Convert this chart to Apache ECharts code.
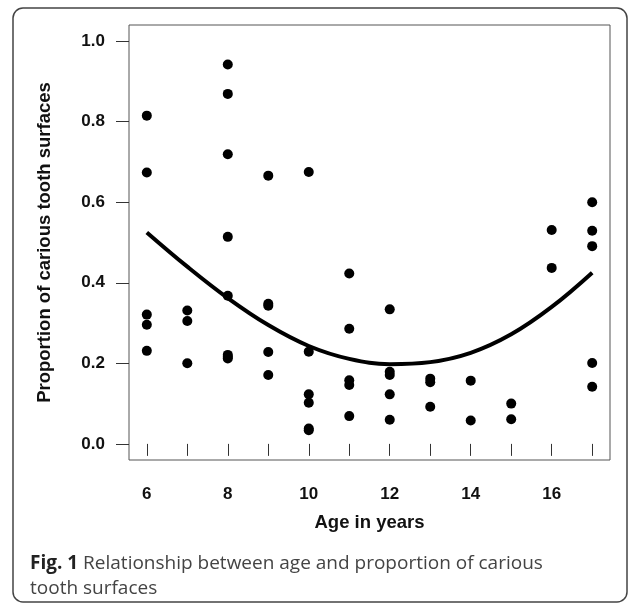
<!DOCTYPE html>
<html>
<head>
<meta charset="utf-8">
<script src="https://cdn.jsdelivr.net/npm/echarts@6/dist/echarts.min.js"></script>
<style>
html,body{margin:0;padding:0;background:#fff;}
#chart{width:634px;height:606px;}
</style>
</head>
<body>
<div id="chart"></div>
<script>
// Observed data: [age, proportion]
var pointAges = [
  6,6,6,6,6,
  7,7,7,
  8,8,8,8,8,8,8,8,
  9,9,9,9,9,
  10,10,10,10,10,10,
  11,11,11,11,11,
  12,12,12,12,12,
  13,13,13,
  14,14,
  15,15,
  16,16,
  17,17,17,17,17
];
var pointValues = [
  0.815,0.674,0.321,0.296,0.231,
  0.331,0.305,0.200,
  0.942,0.869,0.719,0.514,0.368,0.221,0.212,
  0.216,
  0.666,0.348,0.343,0.228,0.171,
  0.675,0.229,0.123,0.102,0.038,0.034,
  0.423,0.286,0.158,0.146,0.069,
  0.334,0.179,0.171,0.123,0.060,
  0.162,0.153,0.092,
  0.157,0.058,
  0.100,0.061,
  0.531,0.437,
  0.600,0.529,0.491,0.201,0.142
];
// Fitted curve read at each age
var curveAges = [6,7,8,9,10,11,12,13,14,15,16,17];
var curveValues = [0.525,0.440,0.362,0.295,0.243,0.211,0.198,0.203,0.226,0.272,0.340,0.425];

var xTicks = [6,7,8,9,10,11,12,13,14,15,16,17];
var xTickLabels = [6,8,10,12,14,16];
var yTicks = [0,0.2,0.4,0.6,0.8,1.0];

var xTitle = 'Age in years';
var yTitle = 'Proportion of carious tooth surfaces';
var captionBold = 'Fig. 1';
var captionLine1 = ' Relationship between age and proportion of carious';
var captionLine2 = 'tooth surfaces';

var pts = pointAges.map(function(a,i){return [a, pointValues[i]];});
var curve = curveAges.map(function(a,i){return [a, curveValues[i]];});

var chart = echarts.init(document.getElementById('chart'), null, {renderer:'canvas'});
var ff = 'Liberation Sans, Arial, sans-serif';
chart.setOption({
  animation:false,
  backgroundColor:'#fff',
  grid:{left:129, top:25, right:24, bottom:146, show:true, borderColor:'#555', borderWidth:1, containLabel:false},
  xAxis:{
    type:'value', min:5.56, max:17.44,
    axisLine:{show:false},
    splitLine:{show:false},
    axisTick:{show:true, inside:false, length:12, customValues:xTicks, lineStyle:{color:'#333', width:1}},
    axisLabel:{customValues:xTickLabels, margin:26, fontFamily:ff, fontWeight:'bold', fontSize:17, color:'#111'},
    name:xTitle, nameLocation:'middle', nameGap:53,
    nameTextStyle:{fontFamily:ff, fontWeight:'bold', fontSize:18.5, color:'#111'}
  },
  yAxis:{
    type:'value', min:-0.04, max:1.04,
    axisLine:{show:false},
    splitLine:{show:false},
    axisTick:{show:true, inside:false, length:13, customValues:yTicks, lineStyle:{color:'#333', width:1}},
    axisLabel:{customValues:yTicks, margin:24, formatter:function(v){return v.toFixed(1);}, fontFamily:ff, fontWeight:'bold', fontSize:17, color:'#111'},
    name:yTitle, nameLocation:'middle', nameGap:75, nameRotate:90,
    nameTextStyle:{fontFamily:ff, fontWeight:'bold', fontSize:18.5, color:'#111'}
  },
  series:[
    {type:'scatter', data:pts, symbol:'circle', symbolSize:10, clip:false, itemStyle:{color:'#000', opacity:1}, silent:true},
    {type:'line', data:curve, smooth:0.4, showSymbol:false, clip:false, lineStyle:{color:'#000', width:4}, silent:true}
  ],
  graphic:[
    {type:'rect', shape:{x:13, y:8, width:614, height:594, r:10}, style:{fill:null, stroke:'#444', lineWidth:1.5}, silent:true},
    {type:'text', left:30, top:554, style:{
      text:'{b|'+captionBold+'}{n|'+captionLine1+'}\n{n|'+captionLine2+'}',
      rich:{
        b:{fontFamily:'Open Sans, Noto Sans, sans-serif', fontWeight:'bold', fontSize:19, fill:'#222', lineHeight:25},
        n:{fontFamily:'Open Sans, Noto Sans, sans-serif', fontWeight:'normal', fontSize:19, fill:'#444', lineHeight:25}
      }
    }, silent:true}
  ]
});
</script>
</body>
</html>
